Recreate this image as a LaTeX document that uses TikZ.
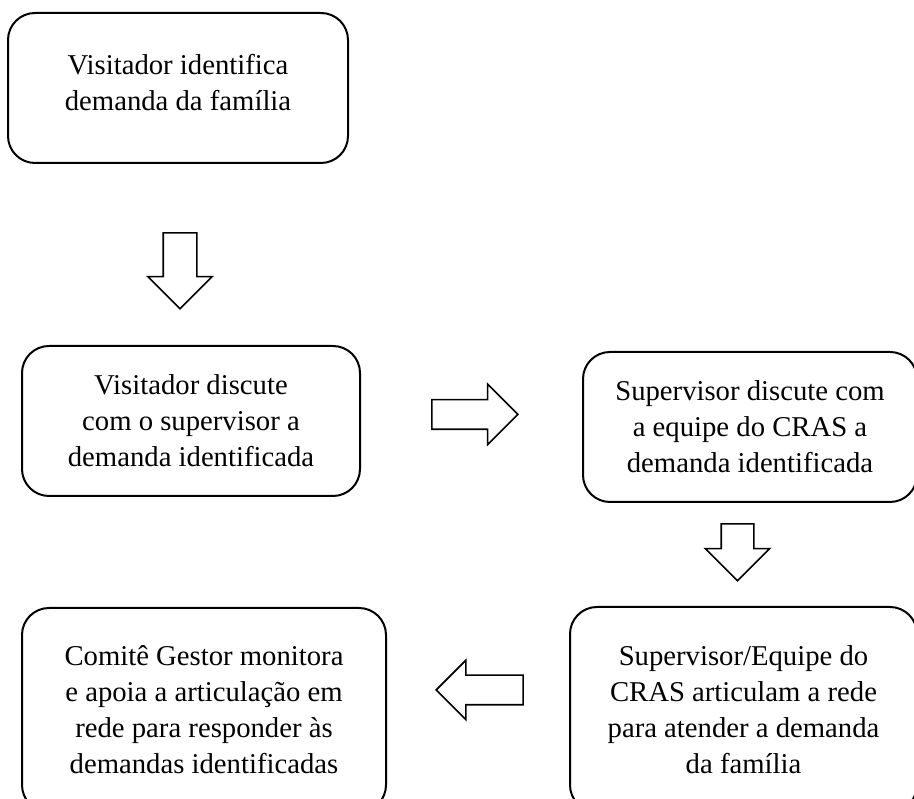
\documentclass[tikz,border=0pt]{standalone}
\usepackage{fontspec}
\setmainfont{Liberation Serif}
\usetikzlibrary{shapes.arrows}

\tikzset{
    caixa/.style={draw, line width=2pt, rounded corners=27pt, align=center, inner sep=0pt},
    seta/.style={draw, line width=1.6pt, single arrow, inner xsep=0pt, anchor=tip}
}

\begin{document}
\begin{tikzpicture}[x=1pt, y=1pt, font=\fontsize{28.7}{36}\selectfont]
        \useasboundingbox (0,0) rectangle (914,799);

        \coordinate (A) at (178,711);
        \coordinate (B) at (191,378);
        \coordinate (C) at (750,372);
        \coordinate (D) at (743.5,89.5);
        \coordinate (E) at (204,89);

        \node[caixa, minimum width=340pt, minimum height=150pt, text depth=12pt] (visita) at (A) {Visitador identifica\\demanda da família};
        \node[caixa, minimum width=338pt, minimum height=150pt] (discute) at (B) {Visitador discute\\com o supervisor a\\demanda identificada};
        \node[caixa, minimum width=334pt, minimum height=150pt] (equipe) at (C) {Supervisor discute com\\a equipe do CRAS a\\demanda identificada};
        \node[caixa, minimum width=347pt, minimum height=205pt] (rede) at (D) {Supervisor/Equipe do\\CRAS articulam a rede\\para atender a demanda\\da família};
        \node[caixa, minimum width=364pt, minimum height=204pt] (comite) at (E) {Comitê Gestor monitora\\e apoia a articulação em\\rede para responder às\\demandas identificadas};

        \node[seta, minimum height=76pt, inner ysep=16pt, single arrow head extend=15.5pt, rotate=-90] (s1) at (180,489) {};
        \node[seta, minimum height=86pt, inner ysep=14pt, single arrow head extend=15.5pt] (s2) at (519,384.5) {};
        \node[seta, minimum height=57pt, inner ysep=15.5pt, single arrow head extend=16pt, rotate=-90] (s3) at (737.5,217) {};
        \node[seta, minimum height=87pt, inner ysep=14pt, single arrow head extend=15pt, rotate=180] (s4) at (435,109) {};
    \end{tikzpicture}
\end{document}
